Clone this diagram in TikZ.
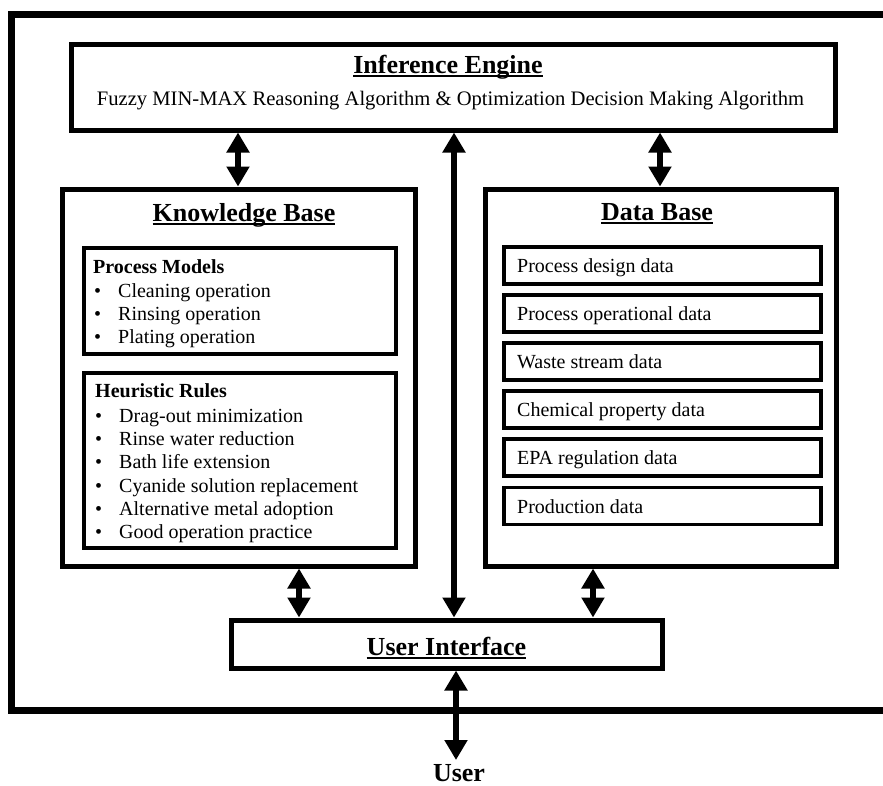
\documentclass[tikz,border=0pt]{standalone}
\usepackage{fontspec}
\setmainfont{Liberation Serif}
\usetikzlibrary{arrows.meta}
\newcommand\myul[1]{\setbox0\hbox{#1}\rlap{\rule[-4pt]{\wd0}{2pt}}\box0}
\tikzset{
  frameline/.style={line width=7pt},
  bigbox/.style={draw, rectangle, line width=5pt, inner sep=0pt},
  smallbox/.style={draw, rectangle, line width=3.5pt, inner sep=0pt},
  headtxt/.style={font=\fontsize{26}{30}\selectfont\bfseries, inner sep=0pt},
  subtxt/.style={font=\fontsize{20}{24}\selectfont\bfseries, inner sep=0pt, anchor=base west},
  bodytxt/.style={font=\fontsize{20}{24}\selectfont, inner sep=0pt, anchor=base west},
  dblarrow/.style={line width=6pt, {Triangle[width=22pt,length=20pt]}-{Triangle[width=22pt,length=20pt]}}
}
\begin{document}
\begin{tikzpicture}[x=1pt,y=-1pt]
\useasboundingbox (0,0) rectangle (883,785);
\clip (0,0) rectangle (883,785);
% outer frame (right edge cut off)
\draw[frameline] (895,14) -- (11,14) -- (11,710.5) -- (895,710.5);

% main boxes
\node[bigbox, minimum width=764pt, minimum height=86pt] (ie) at (453,87) {};
\node[bigbox, minimum width=353pt, minimum height=377pt] (kb) at (238.5,377.5) {};
\node[bigbox, minimum width=351pt, minimum height=377pt] (db) at (660.5,377.5) {};
\node[bigbox, minimum width=431pt, minimum height=48pt] (ui) at (446.5,644) {};

% titles
\node[headtxt, anchor=base] (ietitle) at (448,73) {\myul{Inference Engine}};
\node[font=\fontsize{20.6}{24}\selectfont, inner sep=0pt, anchor=base] (iesub) at (450.5,105) {Fuzzy MIN-MAX Reasoning Algorithm \& Optimization Decision Making Algorithm};
\node[headtxt, anchor=base] (kbtitle) at (244,221) {\myul{Knowledge Base}};
\node[headtxt, anchor=base] (dbtitle) at (657,220) {\myul{Data Base}};
\node[headtxt, anchor=base] (uititle) at (446.5,655) {\myul{User Interface}};
\node[headtxt, anchor=base] (user) at (459,781) {User};

% knowledge base inner boxes
\node[smallbox, minimum width=312pt, minimum height=106pt] (pm) at (240,301) {};
\node[smallbox, minimum width=312pt, minimum height=175pt] (hr) at (240,460.5) {};

\node[subtxt] (pmt) at (93,273) {Process Models};
\node[bodytxt] (pmb1) at (94,297) {•}; \node[bodytxt] (pm1) at (118,297) {Cleaning operation};
\node[bodytxt] (pmb2) at (94,320) {•}; \node[bodytxt] (pm2) at (118,320) {Rinsing operation};
\node[bodytxt] (pmb3) at (94,343) {•}; \node[bodytxt] (pm3) at (118,343) {Plating operation};

\node[subtxt] (hrt) at (95,397) {Heuristic Rules};
\node[bodytxt] (hrb1) at (95,422) {•}; \node[bodytxt] (hr1) at (119,422) {Drag-out minimization};
\node[bodytxt] (hrb2) at (95,445) {•}; \node[bodytxt] (hr2) at (119,445) {Rinse water reduction};
\node[bodytxt] (hrb3) at (95,468) {•}; \node[bodytxt] (hr3) at (119,468) {Bath life extension};
\node[bodytxt] (hrb4) at (95,492) {•}; \node[bodytxt] (hr4) at (119,492) {Cyanide solution replacement};
\node[bodytxt] (hrb5) at (95,515) {•}; \node[bodytxt] (hr5) at (119,515) {Alternative metal adoption};
\node[bodytxt] (hrb6) at (95,538) {•}; \node[bodytxt] (hr6) at (119,538) {Good operation practice};

% data base items
\foreach \n/\yc/\t in {1/265.5/Process design data, 2/313.5/Process operational data, 3/361.5/Waste stream data, 4/409.5/Chemical property data, 5/457.5/EPA regulation data, 6/506/Production data}{
  \node[smallbox, minimum width=317pt, minimum height=37pt] (d\n) at (662.5,\yc) {};
  \node[bodytxt] (dt\n) at (517,\yc+7) {\t};
}

% connectors
\draw[dblarrow] (238,0 |- ie.south) -- (238,0 |- kb.north);
\draw[dblarrow] (660,0 |- ie.south) -- (660,0 |- db.north);
\draw[dblarrow] (454,0 |- ie.south) -- (454,0 |- ui.north);
\draw[dblarrow] (299,0 |- kb.south) -- (299,0 |- ui.north);
\draw[dblarrow] (593,0 |- db.south) -- (593,0 |- ui.north);
\coordinate (userend) at (456,760);
\draw[dblarrow] (456,0 |- ui.south) -- (userend);
\end{tikzpicture}
\end{document}
